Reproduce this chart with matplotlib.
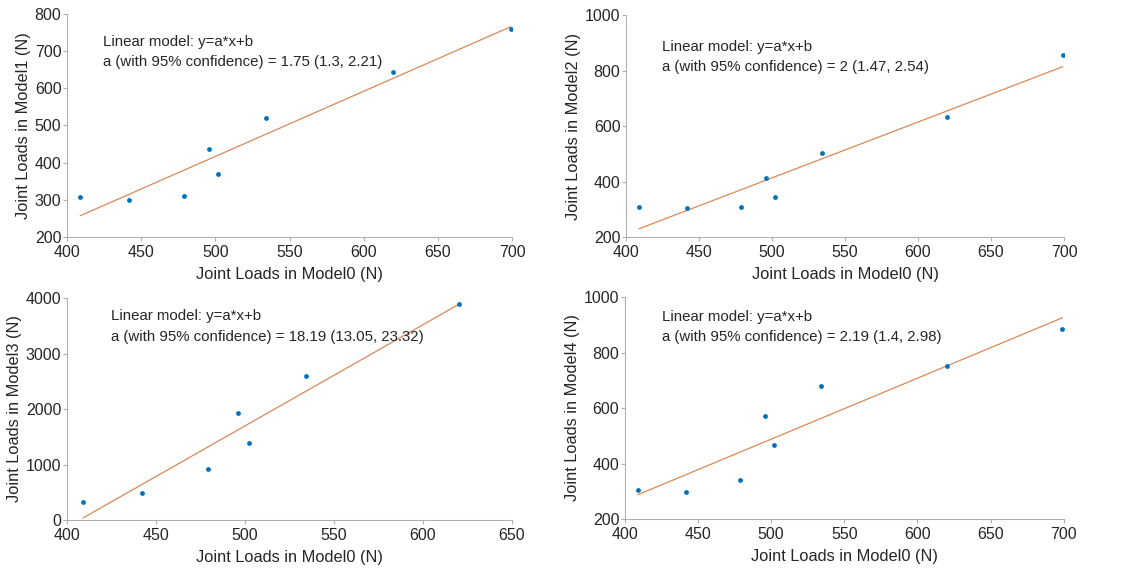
import matplotlib.pyplot as plt
import numpy as np

plt.rcParams['font.family'] = ['Liberation Sans', 'DejaVu Sans']

# joint loads in Model0 (shared x values)
model0 = [409, 442, 479, 496, 502, 534, 620, 699]

model1 = [307, 300, 311, 438, 370, 521, 645, 759]
model2 = [309, 306, 307, 413, 343, 501, 634, 856]
model3 = [331, 481, 914, 1931, 1395, 2598, 3898]
model4 = [306, 296, 340, 573, 466, 681, 753, 885]

fit_text = ['1.75 (1.3, 2.21)', '2 (1.47, 2.54)', '18.19 (13.05, 23.32)', '2.19 (1.4, 2.98)']

panels = [
    ('Model1', model1, (400, 700), (200, 800), 100, [0.0594, 0.5835, 0.3945, 0.392], (0.081, 0.874, 0.785)),
    ('Model2', model2, (400, 700), (200, 1000), 200, [0.555, 0.5835, 0.3883, 0.390], (0.082, 0.856, 0.766)),
    ('Model3', model3, (400, 650), (0, 4000), 1000, [0.0594, 0.0861, 0.3945, 0.390], (0.099, 0.919, 0.824)),
    ('Model4', model4, (400, 700), (200, 1000), 200, [0.554, 0.0879, 0.389, 0.390], (0.084, 0.91, 0.82)),
]

fig = plt.figure(figsize=(11.28, 5.69), dpi=100)
txt_col = '#262626'
spine_col = '#b0b0b0'

for i, (name, yv, xl, yl, ystep, pos, tpos) in enumerate(panels):
    ax = fig.add_axes(pos)
    x = np.array(model0[:len(yv)], dtype=float)
    y = np.array(yv, dtype=float)
    a, b = np.polyfit(x, y, 1)
    xx = np.array([x.min(), x.max()])
    ax.plot(xx, a * xx + b, color='#D9885A', lw=0.9, zorder=2)
    ax.scatter(x, y, s=12, color='#0072BD', zorder=3, linewidths=0)
    ax.set_xlim(xl)
    ax.set_ylim(yl)
    ax.set_xticks(np.arange(xl[0], xl[1] + 1, 50))
    ax.set_yticks(np.arange(yl[0], yl[1] + 1, ystep))
    for s in ['top', 'right']:
        ax.spines[s].set_visible(False)
    for s in ['left', 'bottom']:
        ax.spines[s].set_color(spine_col)
        ax.spines[s].set_linewidth(0.8)
    ax.tick_params(direction='out', length=3, width=0.8, color=spine_col,
                   labelcolor=txt_col, labelsize=11.5, pad=1)
    ax.tick_params(axis='x', pad=3)
    ax.set_xlabel('Joint Loads in Model0 (N)', fontsize=11.8, color=txt_col, labelpad=5)
    ax.set_ylabel('Joint Loads in %s (N)' % name, fontsize=11.8, color=txt_col, labelpad=3)
    ax.text(tpos[0], tpos[1], 'Linear model: y=a*x+b', transform=ax.transAxes,
            fontsize=10.8, color=txt_col, va='center', ha='left')
    ax.text(tpos[0], tpos[2], 'a (with 95% confidence) = ' + fit_text[i], transform=ax.transAxes,
            fontsize=10.8, color=txt_col, va='center', ha='left')

fig.savefig('out.png', dpi=100)
